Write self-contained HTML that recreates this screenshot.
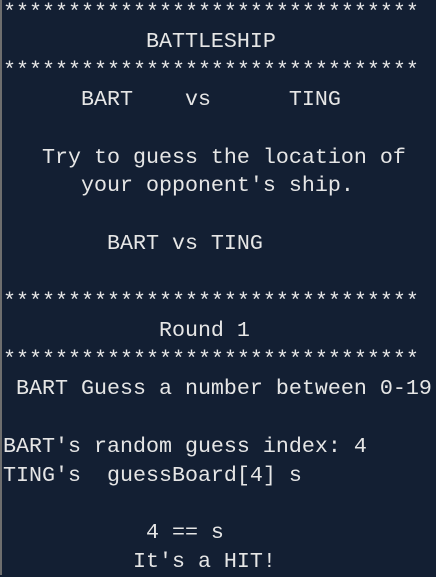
<!DOCTYPE html>
<html><head><meta charset="utf-8"><style>
html,body{margin:0;padding:0;}
body{width:436px;height:575px;background:#131f33;overflow:hidden;position:relative;}
.b{position:absolute;left:0;top:0;width:2px;height:575px;background:#6e6e6e;}
pre{position:absolute;left:3px;top:-1px;margin:0;font-family:"Liberation Mono",monospace;font-size:21.67px;line-height:28.9px;color:#e6e6e6;white-space:pre;}
</style></head><body><div class="b"></div><pre>********************************
           BATTLESHIP
********************************
      BART    vs      TING

   Try to guess the location of
      your opponent's ship.

        BART vs TING

********************************
            Round 1
********************************
 BART Guess a number between 0-19

BART's random guess index: 4
TING's  guessBoard[4] s

           4 == s
          It's a HIT!</pre></body></html>
